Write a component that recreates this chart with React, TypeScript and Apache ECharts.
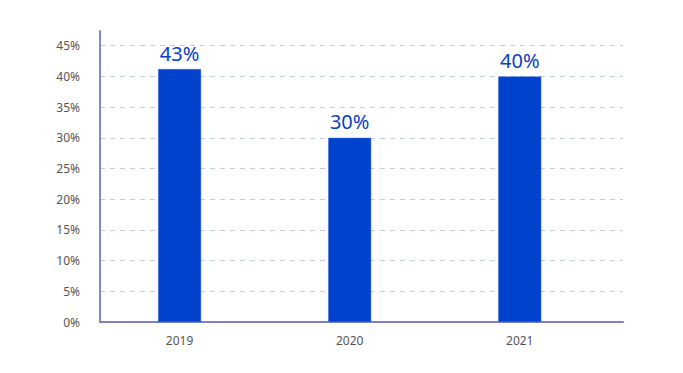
import React, { useEffect, useRef } from "react";
import * as echarts from "echarts";

const years = [2019, 2020, 2021];
const values = [41.2, 30, 40];
const barLabels = ["43%", "30%", "40%"];
const yTicks = [0, 5, 10, 15, 20, 25, 30, 35, 40, 45];

export default function App() {
  const ref = useRef<HTMLDivElement>(null);
  useEffect(() => {
    if (!ref.current) return;
    document.body.style.margin = "0";
    const chart = echarts.init(ref.current, undefined, { renderer: "svg" });
    const gridColors = yTicks.map(() => "#c2ceda");
    gridColors.push("transparent");
    chart.setOption({
      animation: false,
      grid: { left: 100, right: 60, top: 31, bottom: 51, containLabel: false },
      xAxis: {
        type: "value",
        min: 2018.532,
        max: 2021.607,
        axisLine: { show: true, onZero: false, lineStyle: { color: "#7d80c2", width: 2 } },
        axisTick: { show: false },
        splitLine: { show: false },
        axisLabel: {
          customValues: years,
          formatter: (v: number) => String(v),
          color: "#555",
          fontSize: 12,
          margin: 12,
          fontFamily: "Noto Sans",
        },
      },
      yAxis: {
        type: "value",
        min: 0,
        max: 47.4,
        interval: 5,
        axisLine: { show: true, lineStyle: { color: "#868ac6", width: 2 } },
        axisTick: { show: false },
        axisLabel: {
          formatter: "{value}%",
          showMaxLabel: false,
          color: "#555",
          fontSize: 12,
          margin: 20,
          fontFamily: "Noto Sans",
        },
        splitLine: {
          show: true,
          lineStyle: { color: gridColors, type: [5, 5], width: 1 },
        },
      },
      series: [
        {
          type: "bar",
          barWidth: 43,
          data: years.map((y, i) => [y, values[i]]),
          itemStyle: { color: "#0042cc", borderColor: "#3a6ae0", borderWidth: 0.5 },
          label: {
            show: true,
            position: "top",
            distance: 6,
            formatter: (p: any) => barLabels[p.dataIndex],
            color: "#0a3fc4",
            fontSize: 20,
            fontFamily: "Noto Sans",
          },
        },
      ],
    });
    return () => chart.dispose();
  }, []);
  return <div ref={ref} style={{ width: 683, height: 373 }} />;
}
